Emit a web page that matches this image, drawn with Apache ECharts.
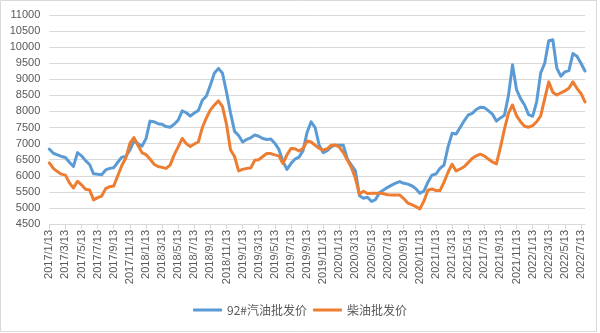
<!DOCTYPE html>
<html>
<head>
<meta charset="utf-8">
<script src="https://cdn.jsdelivr.net/npm/echarts@6/dist/echarts.min.js"></script>
<style>
  html, body { margin: 0; padding: 0; background: #fff; }
  #chart { width: 600px; height: 333px; }
</style>
</head>
<body>
<div id="chart"></div>
<script>
// Semi-monthly wholesale prices (yuan/ton), sampled on the 13th and 28th of each month
const startYear = 2017, startMonth = 1;
const endYear = 2022, endMonth = 7;
const sampleDays = [13, 28];

const gasoline92 = [
  6830, 6700, 6650, 6600, 6570, 6420, 6290, 6720, 6620, 6470,
  6350, 6060, 6050, 6030, 6180, 6230, 6250, 6420, 6580, 6600,
  6800, 7080, 7000, 6920, 7150, 7700, 7680, 7620, 7600, 7530,
  7510, 7600, 7730, 8020, 7960, 7860, 7950, 8030, 8350, 8480,
  8820, 9200, 9340, 9190, 8600, 7950, 7380, 7250, 7050, 7130,
  7180, 7270, 7230, 7160, 7130, 7140, 7010, 6820, 6450, 6200,
  6380, 6520, 6580, 6780, 7350, 7680, 7500, 6950, 6720, 6780,
  6900, 6950, 6950, 6950, 6520, 6330, 6150, 5380, 5300, 5330,
  5200, 5260, 5480, 5560, 5640, 5710, 5770, 5820, 5765, 5740,
  5690, 5600, 5460, 5520, 5800, 6020, 6055, 6230, 6335, 6900,
  7320, 7300, 7500, 7710, 7890, 7940, 8060, 8130, 8120, 8025,
  7920, 7700, 7800, 7880, 8500, 9450, 8680, 8400, 8200, 7900,
  7850, 8300, 9200, 9500, 10200, 10230, 9350, 9100, 9230, 9270,
  9800, 9720, 9500, 9260
];

const diesel = [
  6400, 6230, 6130, 6050, 6020, 5780, 5620, 5830, 5720, 5580,
  5560, 5250, 5320, 5370, 5600, 5660, 5680, 6000, 6320, 6550,
  7010, 7190, 6950, 6720, 6660, 6520, 6360, 6290, 6260, 6230,
  6330, 6650, 6900, 7160, 7000, 6910, 6990, 7050, 7500, 7800,
  8050, 8200, 8330, 8150, 7600, 6800, 6600, 6150, 6200, 6230,
  6240, 6480, 6500, 6600, 6690, 6690, 6650, 6620, 6380, 6650,
  6850, 6840, 6770, 6850, 7080, 7050, 6950, 6850, 6800, 6840,
  6950, 6960, 6890, 6720, 6490, 6260, 5920, 5430, 5520, 5450,
  5460, 5460, 5460, 5440, 5410, 5400, 5400, 5400, 5290, 5150,
  5100, 5040, 4970, 5210, 5550, 5590, 5540, 5540, 5800, 6110,
  6360, 6150, 6210, 6280, 6410, 6540, 6620, 6670, 6620, 6520,
  6430, 6370, 6880, 7450, 7950, 8200, 7870, 7680, 7540, 7510,
  7560, 7680, 7860, 8400, 8920, 8600, 8510, 8580, 8640, 8720,
  8920, 8720, 8560, 8300
];

const seriesNames = ['92#汽油批发价', '柴油批发价'];
const yMin = 4500, yMax = 11000, yStep = 500;

// Build the date categories
const dates = [];
for (let y = startYear; y <= endYear; y++) {
  const mFrom = y === startYear ? startMonth : 1;
  const mTo = y === endYear ? endMonth : 12;
  for (let m = mFrom; m <= mTo; m++) {
    sampleDays.forEach(d => dates.push(y + '/' + m + '/' + d));
  }
}

const textColor = '#595959';
const gridColor = '#d9d9d9';
const chart = echarts.init(document.getElementById('chart'), null, { renderer: 'canvas' });

chart.setOption({
  animation: false,
  backgroundColor: '#ffffff',
  graphic: [{
    type: 'rect',
    shape: { x: 0.5, y: 0.5, width: 596, height: 331 },
    style: { fill: 'none', stroke: gridColor, lineWidth: 1 },
    silent: true
  }],
  grid: { left: 49.3, right: 15, top: 15, bottom: 109, containLabel: false },
  legend: {
    bottom: 12,
    left: 'center',
    icon: 'roundRect',
    itemWidth: 29,
    itemHeight: 3,
    itemGap: 6,
    textStyle: { fontSize: 12, color: textColor, fontFamily: 'Noto Sans CJK SC' },
    data: seriesNames
  },
  xAxis: {
    type: 'category',
    data: dates,
    boundaryGap: false,
    axisLine: { lineStyle: { color: gridColor, width: 1 } },
    axisTick: { interval: 3, length: 5, lineStyle: { color: gridColor } },
    axisLabel: {
      interval: 3,
      rotate: 90,
      margin: 6,
      fontSize: 11,
      color: textColor,
      fontFamily: 'Liberation Sans'
    }
  },
  yAxis: {
    type: 'value',
    min: yMin,
    max: yMax,
    interval: yStep,
    axisLine: { show: false },
    axisTick: { show: false },
    splitLine: { lineStyle: { color: gridColor, width: 1 } },
    axisLabel: {
      fontSize: 11,
      color: textColor,
      margin: 9,
      fontFamily: 'Liberation Sans',
      formatter: v => String(v)
    }
  },
  series: [
    {
      name: seriesNames[0],
      type: 'line',
      data: gasoline92,
      showSymbol: false,
      symbol: 'none',
      lineStyle: { color: '#5b9bd5', width: 3, cap: 'round', join: 'round' },
      itemStyle: { color: '#5b9bd5' }
    },
    {
      name: seriesNames[1],
      type: 'line',
      data: diesel,
      showSymbol: false,
      symbol: 'none',
      lineStyle: { color: '#ed7d31', width: 3, cap: 'round', join: 'round' },
      itemStyle: { color: '#ed7d31' }
    }
  ]
});
</script>
</body>
</html>
